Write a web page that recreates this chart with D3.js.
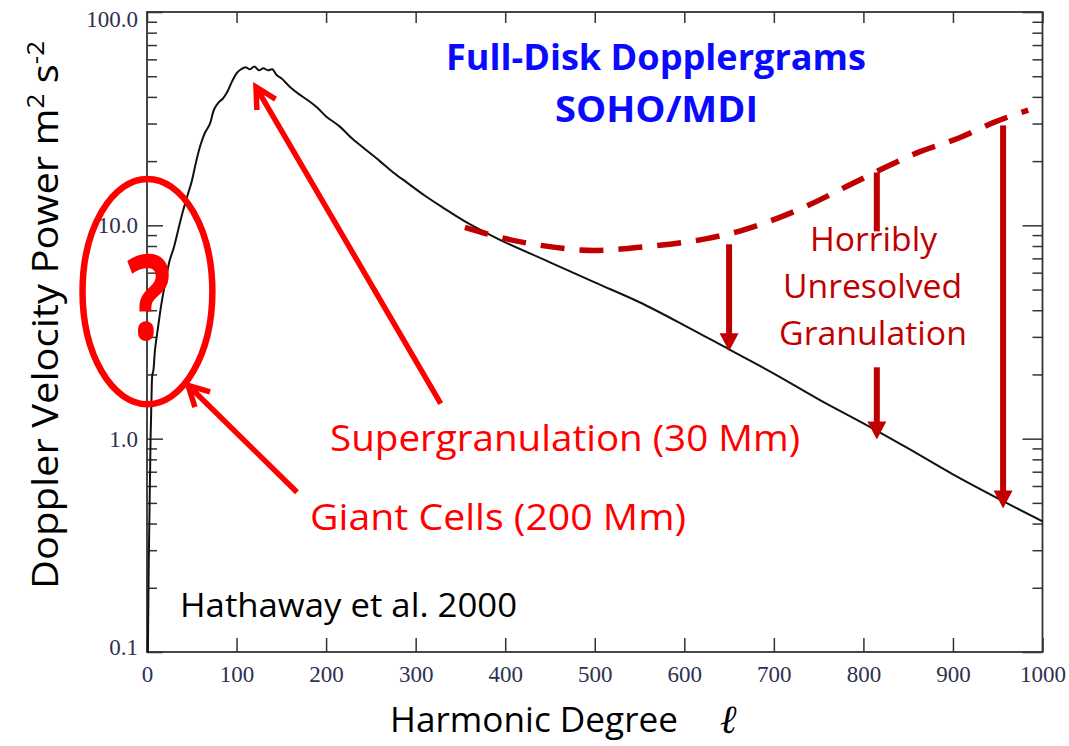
<!DOCTYPE html>
<html><head><meta charset="utf-8">
<script src="https://cdn.jsdelivr.net/npm/d3@7"></script>
<style>
html,body{margin:0;padding:0;background:#fff;}
svg{display:block;}
</style></head><body>
<svg id="chart" width="1069" height="746"></svg>
<script>
// Full-disk Doppler velocity power spectrum (SOHO/MDI)
const degree = [1,2,3,4,5,6,7,9,12,16,20,25,30,35,40,45,50,55,60,65,70,75,80,85,90,95,100,105,110,115,120,125,130,135,140,145,150,160,170,180,190,200,215,230,245,260,275,290,310,330,355,380,400,450,500,550,600,650,700,750,800,850,900,950,1000];
const power = [0.1,0.27,0.52,1.0,1.53,2.0,2.07,2.62,3.25,4.26,5.29,6.77,7.88,9.57,11.6,13.7,16.1,20.0,24.0,27.3,29.7,35.0,37.7,39.4,42.5,47.3,51.6,53.9,55.1,53.9,55.6,53.3,54.5,53.3,53.9,50.5,48.9,44.4,41.1,38.5,35.7,32.4,29.1,25.3,22.5,20.0,17.7,15.9,13.8,12.15,10.44,9.17,8.32,6.71,5.40,4.36,3.40,2.62,2.02,1.53,1.18,0.90,0.68,0.525,0.41];

// Expected granulation power (dashed)
const granDegree = [355,394,439,500,550,625,662,703,741,781,820,859,908,945,984];
const granPower = [9.79,8.79,8.06,7.63,7.89,8.66,9.40,10.75,12.55,15.2,18.3,21.8,25.8,30.3,34.7];

// Axis ticks
const xTickValues = [0,100,200,300,400,500,600,700,800,900,1000];
const yMajorValues = [0.1,1,10,100];
const yMajorLabels = ["0.1","1.0","10.0","100.0"];

// Downward arrows from expected to observed power
const dropDegree = [650,815,956];
const dropFrom = [8.15,17.7,29.4];
const dropTo = [2.57,0.99,0.471];
const dropBreakHigh = [null,9.37,null];
const dropBreakLow = [null,2.16,null];

// Pointer arrows (start -> tip)
const pointerFromDegree = [328,167.5];
const pointerFromPower = [1.46,0.561];
const pointerToDegree = [121.7,45.8];
const pointerToPower = [44.5,1.78];

// Ring around the lowest degrees
const ringDegree = [-72,73];
const ringPower = [1.45,16.5];

const svg = d3.select("#chart");
const W = 1069, H = 746;
svg.append("rect").attr("width",W).attr("height",H).attr("fill","#fff");

const x = d3.scaleLinear().domain([0,1000]).range([147,1042.5]);
const y = d3.scaleLog().domain([0.1,100]).range([652,12]);

const axisColor = "#333";
const tickFont = "'Liberation Serif','DejaVu Serif',serif";
const tickColor = "#2e3050";
const sansFont = "'Open Sans','Noto Sans',sans-serif";

// Bottom axis (inward ticks, labels below)
const gB = svg.append("g").attr("transform",`translate(0,${y.range()[0]})`)
  .call(d3.axisBottom(x).tickValues(xTickValues).tickSize(-14).tickPadding(14).tickSizeOuter(0).tickFormat(d3.format("d")));
// Top axis
const gT = svg.append("g").attr("transform",`translate(0,${y.range()[1]})`)
  .call(d3.axisTop(x).tickValues(xTickValues).tickSize(-11).tickSizeOuter(0).tickFormat(""));

const minorY = y.ticks().filter(v => yMajorValues.indexOf(v) < 0);
// Left axis
const gLm = svg.append("g").attr("transform",`translate(${x.range()[0]},0)`)
  .call(d3.axisLeft(y).tickValues(minorY).tickSize(-10).tickSizeOuter(0).tickFormat(""));
const gL = svg.append("g").attr("transform",`translate(${x.range()[0]},0)`)
  .call(d3.axisLeft(y).tickValues(yMajorValues).tickSize(-16).tickPadding(9).tickSizeOuter(0)
    .tickFormat((d,i) => yMajorLabels[i]));
// Right axis
const gRm = svg.append("g").attr("transform",`translate(${x.range()[1]},0)`)
  .call(d3.axisRight(y).tickValues(minorY).tickSize(-10).tickSizeOuter(0).tickFormat(""));
const gR = svg.append("g").attr("transform",`translate(${x.range()[1]},0)`)
  .call(d3.axisRight(y).tickValues(yMajorValues).tickSize(-20).tickSizeOuter(0).tickFormat(""));

[gB,gT,gLm,gL,gRm,gR].forEach(g => {
  g.select(".domain").remove();
  g.selectAll(".tick line").attr("stroke",axisColor).attr("stroke-width",1.5);
  g.selectAll("text").attr("font-family",tickFont).attr("font-size",23).attr("fill",tickColor);
});
// keep the end labels inside the frame
gL.selectAll(".tick text").filter(d => d === 100).attr("dy","0.62em");
gL.selectAll(".tick text").filter(d => d === 0.1).attr("dy","0.1em");

// Frame
svg.append("rect")
  .attr("x",x.range()[0]).attr("y",y.range()[1])
  .attr("width",x.range()[1]-x.range()[0]).attr("height",y.range()[0]-y.range()[1])
  .attr("fill","none").attr("stroke",axisColor).attr("stroke-width",1.8);

// Observed spectrum
const spectrum = degree.map((d,i) => [d, power[i]]);
svg.append("path")
  .attr("d", d3.line().curve(d3.curveCatmullRom.alpha(0.5)).x(d => x(d[0])).y(d => y(d[1]))(spectrum))
  .attr("fill","none").attr("stroke","#111").attr("stroke-width",2).attr("stroke-linejoin","round");

// Expected granulation spectrum (dashed)
const gran = granDegree.map((d,i) => [d, granPower[i]]);
svg.append("path")
  .attr("d", d3.line().curve(d3.curveMonotoneX).x(d => x(d[0])).y(d => y(d[1]))(gran))
  .attr("fill","none").attr("stroke","#c00000").attr("stroke-width",5.5)
  .attr("stroke-dasharray","24,15");

// Downward arrows
const darkRed = "#c00000";
function shaft(xc, y1, y2, w) {
  svg.append("rect").attr("x",xc-w/2).attr("y",y1).attr("width",w).attr("height",y2-y1).attr("fill",darkRed);
}
dropDegree.forEach((d,i) => {
  const xc = x(d), top = y(dropFrom[i]), tip = y(dropTo[i]);
  const sw = 6, hw = 19, hl = 18;
  if (dropBreakHigh[i] !== null) {
    shaft(xc, top, y(dropBreakHigh[i]), sw);
    shaft(xc, y(dropBreakLow[i]), tip - hl + 1, sw);
  } else {
    shaft(xc, top, tip - hl + 1, sw);
  }
  svg.append("path")
    .attr("d",`M${xc-hw/2},${tip-hl} L${xc+hw/2},${tip-hl} L${xc},${tip} Z`)
    .attr("fill",darkRed);
});

// Pointer arrows with open heads
const red = "#ff0000";
pointerFromDegree.forEach((d,i) => {
  const x0 = x(d), y0 = y(pointerFromPower[i]);
  const x1 = x(pointerToDegree[i]), y1 = y(pointerToPower[i]);
  const ang = Math.atan2(y0-y1, x0-x1);
  const a = 28*Math.PI/180, L = 23;
  const p1 = [x1 + L*Math.cos(ang+a), y1 + L*Math.sin(ang+a)];
  const p2 = [x1 + L*Math.cos(ang-a), y1 + L*Math.sin(ang-a)];
  svg.append("path")
    .attr("d",`M${x0},${y0} L${x1+1.5*Math.cos(ang)},${y1+1.5*Math.sin(ang)} M${p1[0]},${p1[1]} L${x1},${y1} L${p2[0]},${p2[1]}`)
    .attr("fill","none").attr("stroke",red).attr("stroke-width",5.5)
    .attr("stroke-linejoin","miter").attr("stroke-linecap","butt");
});

// Ring
svg.append("ellipse")
  .attr("cx",(x(ringDegree[0])+x(ringDegree[1]))/2)
  .attr("cy",(y(ringPower[0])+y(ringPower[1]))/2)
  .attr("rx",(x(ringDegree[1])-x(ringDegree[0]))/2)
  .attr("ry",(y(ringPower[0])-y(ringPower[1]))/2)
  .attr("fill","none").attr("stroke",red).attr("stroke-width",6.5);

// Text
function label(t, xs, yb, size, len, color, weight, anchor) {
  return svg.append("text").attr("x",xs).attr("y",yb)
    .attr("font-family",sansFont).attr("font-size",size)
    .attr("font-weight",weight||400).attr("fill",color)
    .attr("text-anchor",anchor||"start")
    .attr("textLength",len).attr("lengthAdjust","spacingAndGlyphs")
    .text(t);
}
label("?",127,339,118,44,red,700);
label("Full-Disk Dopplergrams",446,70,36,420,"#0a0aff",700);
label("SOHO/MDI",555,122,36,203,"#0a0aff",700);
label("Horribly",810,251,33,127,darkRed);
label("Unresolved",783,298,33,179,darkRed);
label("Granulation",779,345,33,188,darkRed);
label("Supergranulation (30 Mm)",330,451,37,470,red);
label("Giant Cells (200 Mm)",310,530,37,376,red);
label("Hathaway et al. 2000",180,617,33,337,"#000");
label("Harmonic Degree",390,732,35,288,"#000");
svg.append("text").attr("x",728).attr("y",733)
  .attr("font-family","'DejaVu Serif',serif").attr("font-style","italic")
  .attr("font-size",40).attr("text-anchor","middle").attr("fill","#000").text("\u2113");

// Y axis title
const yt = svg.append("text")
  .attr("transform","translate(58,589) rotate(-90)")
  .attr("font-family",sansFont).attr("font-size",37).attr("fill","#000")
  .attr("textLength",548).attr("lengthAdjust","spacingAndGlyphs");
yt.append("tspan").text("Doppler Velocity Power m");
yt.append("tspan").attr("dy",-14).attr("font-size",24).text("2");
yt.append("tspan").attr("dy",14).text(" s");
yt.append("tspan").attr("dy",-14).attr("font-size",24).text("-2");
</script>
</body></html>
